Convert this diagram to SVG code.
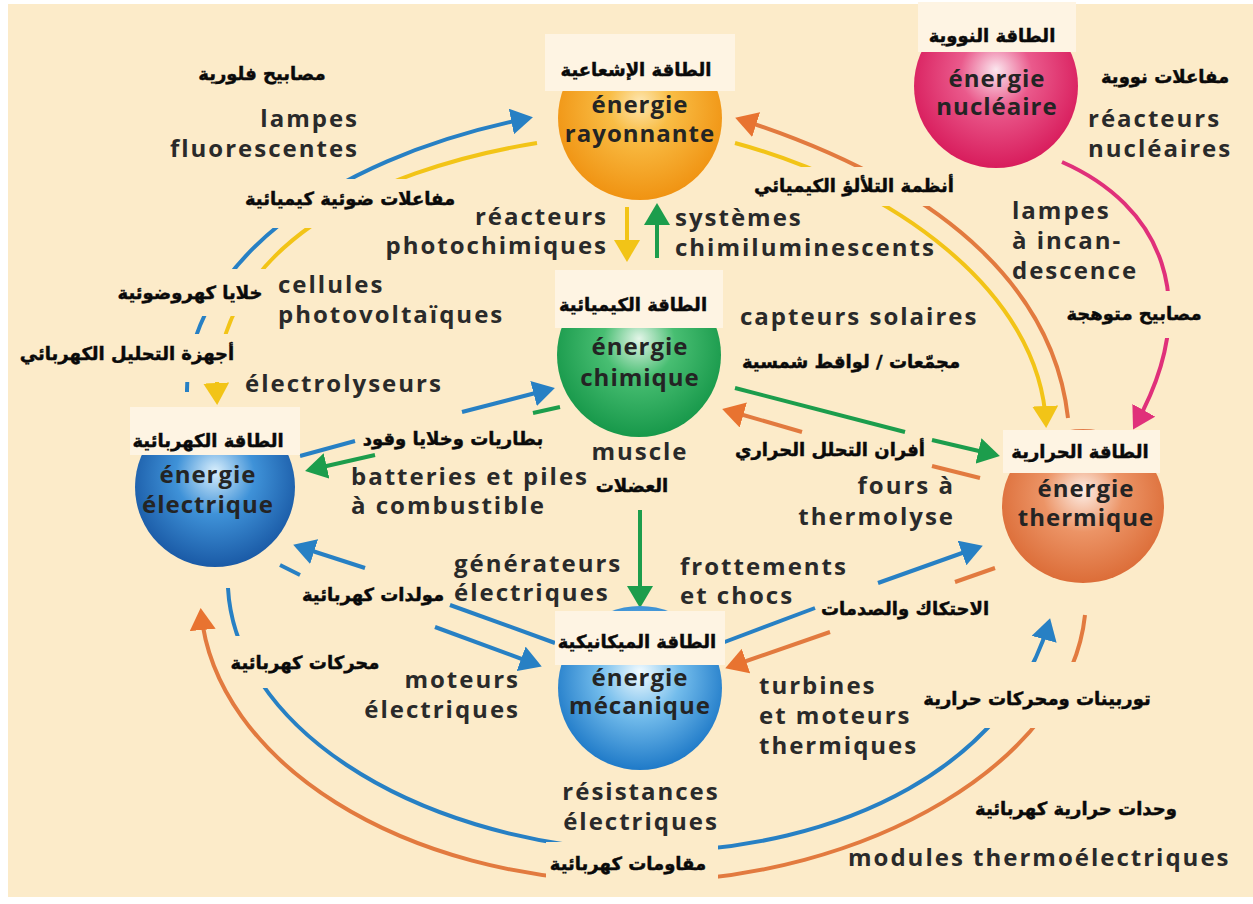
<svg xmlns="http://www.w3.org/2000/svg" width="1253" height="904" viewBox="0 0 1253 904">
<style>
.fr{font-family:'Open Sans','DejaVu Sans',sans-serif;font-weight:700;font-size:24px;letter-spacing:2px;fill:#2a2a2a}
.nd{font-family:'Open Sans','DejaVu Sans',sans-serif;font-weight:700;font-size:24px;letter-spacing:1px;fill:#242424;text-anchor:middle}
.ar{font-family:'DejaVu Sans',sans-serif;font-weight:700;font-size:18px;fill:#0a0a0a;stroke:#0a0a0a;stroke-width:0.45;text-anchor:middle}
.e{text-anchor:end}
.m{text-anchor:middle}
.bx{fill:#fcebc9}
.nb{fill:#fef4e3}
.ln{fill:none;stroke-width:4}
.bl{stroke:#2780c4}
.yl{stroke:#f2c417}
.gr{stroke:#1c9d4c}
.or{stroke:#e27a3f}
.pk{stroke:#e0307a}
</style>
<defs>
<marker id="mb" viewBox="0 0 22 26" refX="18" refY="13" markerWidth="22" markerHeight="26" markerUnits="userSpaceOnUse" orient="auto"><path d="M0,0 L22,13 L0,26 Z" fill="#2780c4"/></marker>
<marker id="my" viewBox="0 0 22 26" refX="18" refY="13" markerWidth="22" markerHeight="26" markerUnits="userSpaceOnUse" orient="auto"><path d="M0,0 L22,13 L0,26 Z" fill="#f2c417"/></marker>
<marker id="mg" viewBox="0 0 22 26" refX="18" refY="13" markerWidth="22" markerHeight="26" markerUnits="userSpaceOnUse" orient="auto"><path d="M0,0 L22,13 L0,26 Z" fill="#1c9d4c"/></marker>
<marker id="mo" viewBox="0 0 22 26" refX="18" refY="13" markerWidth="22" markerHeight="26" markerUnits="userSpaceOnUse" orient="auto"><path d="M0,0 L22,13 L0,26 Z" fill="#e87330"/></marker>
<marker id="mp" viewBox="0 0 22 26" refX="18" refY="13" markerWidth="22" markerHeight="26" markerUnits="userSpaceOnUse" orient="auto"><path d="M0,0 L22,13 L0,26 Z" fill="#e0307a"/></marker>
<radialGradient id="gOr" cx="50%" cy="45%" r="55%" fx="50%" fy="40%"><stop offset="0" stop-color="#fde6b0"/><stop offset="0.35" stop-color="#f9bd45"/><stop offset="1" stop-color="#f09312"/></radialGradient>
<radialGradient id="gPk" cx="50%" cy="45%" r="55%" fx="50%" fy="40%"><stop offset="0" stop-color="#fbe6ee"/><stop offset="0.4" stop-color="#ea5a8c"/><stop offset="1" stop-color="#d81c5c"/></radialGradient>
<radialGradient id="gGr" cx="50%" cy="45%" r="55%" fx="50%" fy="40%"><stop offset="0" stop-color="#e3f5e8"/><stop offset="0.4" stop-color="#48be72"/><stop offset="1" stop-color="#17984a"/></radialGradient>
<radialGradient id="gEl" cx="50%" cy="45%" r="55%" fx="50%" fy="40%"><stop offset="0" stop-color="#d8eefc"/><stop offset="0.45" stop-color="#3f92d8"/><stop offset="1" stop-color="#1a5aa6"/></radialGradient>
<radialGradient id="gMe" cx="50%" cy="45%" r="55%" fx="50%" fy="40%"><stop offset="0" stop-color="#f2fbff"/><stop offset="0.45" stop-color="#74bdec"/><stop offset="1" stop-color="#1f7ac8"/></radialGradient>
<radialGradient id="gTh" cx="50%" cy="45%" r="55%" fx="50%" fy="40%"><stop offset="0" stop-color="#fdeee6"/><stop offset="0.45" stop-color="#ec9466"/><stop offset="1" stop-color="#dc6d38"/></radialGradient>
</defs>
<rect x="0" y="0" width="1253" height="904" fill="#ffffff"/>
<rect x="8" y="4" width="1245" height="893" fill="#fcebc9"/>

<g id="connectors">
<path class="ln bl" d="M187,392 C186,270 320,160 529,118" marker-end="url(#mb)"/>
<path class="ln yl" d="M537,143 C370,170 210,250 217,401" marker-end="url(#my)"/>
<path class="ln yl" d="M627,207 L627,258" marker-end="url(#my)"/>
<path class="ln gr" d="M657,258 L657,207" marker-end="url(#mg)"/>
<path class="ln or" d="M1068,418 C1055,300 960,190 739,119" marker-end="url(#mo)"/>
<path class="ln yl" d="M735,143 C890,185 1040,290 1046,424" marker-end="url(#my)"/>
<path class="ln pk" d="M1062,162 C1160,205 1205,300 1135,426" marker-end="url(#mp)"/>
<path class="ln gr" d="M735,388 L905,432"/>
<path class="ln gr" d="M932,440 L996,455" marker-end="url(#mg)"/>
<path class="ln or" d="M980,478 L932,466"/>
<path class="ln or" d="M802,432 L726,410" marker-end="url(#mo)"/>
<path class="ln bl" d="M300,456 L355,441"/>
<path class="ln bl" d="M462,412 L551,389" marker-end="url(#mb)"/>
<path class="ln gr" d="M560,407 L533,413"/>
<path class="ln gr" d="M375,455 L309,470" marker-end="url(#mg)"/>
<path class="ln gr" d="M640,510 L640,604" marker-end="url(#mg)"/>
<path class="ln bl" d="M555,643 L450,605"/>
<path class="ln bl" d="M365,568 L297,546" marker-end="url(#mb)"/>
<path class="ln bl" d="M280,565 L300,575"/>
<path class="ln bl" d="M435,627 L538,665" marker-end="url(#mb)"/>
<path class="ln bl" d="M722,643 L815,608"/>
<path class="ln bl" d="M878,583 L979,547" marker-end="url(#mb)"/>
<path class="ln or" d="M995,568 L955,582"/>
<path class="ln or" d="M830,632 L729,667" marker-end="url(#mo)"/>
<path class="ln or" d="M1085,615 C1070,760 870,880 640,882 C400,882 215,760 201,612" marker-end="url(#mo)"/>
<path class="ln bl" d="M228,588 C235,720 400,840 640,852 C850,852 1010,760 1049,622" marker-end="url(#mb)"/>
</g>

<g id="labels">
<rect class="bx" x="192" y="62" width="140" height="26"/>
<text class="ar" x="262" y="80">مصابيح فلورية</text>
<rect class="bx" x="243" y="179" width="217" height="49"/>
<text class="ar" x="350" y="205">مفاعلات ضوئية كيميائية</text>
<rect class="bx" x="108" y="269" width="166" height="47"/>
<text class="ar" x="190" y="299">خلايا كهروضوئية</text>
<rect class="bx" x="20" y="334" width="214" height="48"/>
<text class="ar" x="127" y="360">أجهزة التحليل الكهربائي</text>
<rect class="bx" x="1093" y="64" width="144" height="26"/>
<text class="ar" x="1165" y="83">مفاعلات نووية</text>
<rect class="bx" x="752" y="167" width="213" height="39"/>
<text class="ar" x="854" y="192">أنظمة التلألؤ الكيميائي</text>
<rect class="bx" x="1058" y="291" width="154" height="47"/>
<text class="ar" x="1134" y="320">مصابيح متوهجة</text>
<text class="ar" x="851" y="368">مجمّعات / لواقط شمسية</text>
<rect class="bx" x="358" y="426" width="192" height="25"/>
<text class="ar" x="453" y="445">بطاريات وخلايا وقود</text>
<text class="ar" x="830" y="456">أفران التحلل الحراري</text>
<text class="ar" x="632" y="492">العضلات</text>
<text class="ar" x="373" y="601">مولدات كهربائية</text>
<text class="ar" x="905" y="615">الاحتكاك والصدمات</text>
<rect class="bx" x="231" y="636" width="156" height="52"/>
<text class="ar" x="305" y="669">محركات كهربائية</text>
<rect class="bx" x="921" y="662" width="240" height="66"/>
<text class="ar" x="1037" y="705">توربينات ومحركات حرارية</text>
<text class="ar" x="1076" y="815">وحدات حرارية كهربائية</text>
<rect class="bx" x="546" y="842" width="172" height="44"/>
<text class="ar" x="628" y="870">مقاومات كهربائية</text>

<text class="fr e" x="359" y="127">lampes</text>
<text class="fr e" x="359" y="157">fluorescentes</text>
<text class="fr e" x="608" y="225">réacteurs</text>
<text class="fr e" x="608" y="254">photochimiques</text>
<text class="fr" x="675" y="226">systèmes</text>
<text class="fr" x="675" y="256">chimiluminescents</text>
<text class="fr" x="1088" y="127">réacteurs</text>
<text class="fr" x="1088" y="157">nucléaires</text>
<text class="fr" x="1012" y="219">lampes</text>
<text class="fr" x="1012" y="249">à incan-</text>
<text class="fr" x="1012" y="279">descence</text>
<text class="fr" x="278" y="293">cellules</text>
<text class="fr" x="278" y="323">photovoltaïques</text>
<text class="fr" x="740" y="325">capteurs solaires</text>
<text class="fr" x="245" y="392">électrolyseurs</text>
<text class="fr" x="351" y="485">batteries et piles</text>
<text class="fr" x="351" y="514">à combustible</text>
<text class="fr m" x="640" y="460">muscle</text>
<text class="fr e" x="955" y="494">fours à</text>
<text class="fr e" x="955" y="525">thermolyse</text>
<text class="fr" x="454" y="572">générateurs</text>
<text class="fr" x="454" y="601">électriques</text>
<text class="fr" x="680" y="575">frottements</text>
<text class="fr" x="680" y="604">et chocs</text>
<text class="fr e" x="520" y="688">moteurs</text>
<text class="fr e" x="520" y="718">électriques</text>
<text class="fr" x="759" y="694">turbines</text>
<text class="fr" x="759" y="724">et moteurs</text>
<text class="fr" x="759" y="754">thermiques</text>
<text class="fr m" x="641" y="800">résistances</text>
<text class="fr m" x="641" y="830">électriques</text>
<text class="fr" x="848" y="866">modules thermoélectriques</text>
</g>

<g id="node-rayonnante">
<circle cx="640" cy="118" r="82" fill="url(#gOr)"/>
<rect class="nb" x="545" y="34" width="190" height="57"/>
<text class="ar" x="636" y="76">الطاقة الإشعاعية</text>
<text class="nd" x="640" y="113">énergie</text>
<text class="nd" x="640" y="142">rayonnante</text>
</g>
<g id="node-nucleaire">
<circle cx="996" cy="86" r="82" fill="url(#gPk)"/>
<rect class="nb" x="918" y="2" width="158" height="50"/>
<text class="ar" x="992" y="42">الطاقة النووية</text>
<text class="nd" x="997" y="87">énergie</text>
<text class="nd" x="997" y="115">nucléaire</text>
</g>
<g id="node-chimique">
<circle cx="639" cy="355" r="82" fill="url(#gGr)"/>
<rect class="nb" x="555" y="270" width="168" height="58"/>
<text class="ar" x="633" y="311">الطاقة الكيميائية</text>
<text class="nd" x="640" y="355">énergie</text>
<text class="nd" x="640" y="386">chimique</text>
</g>
<g id="node-electrique">
<circle cx="215" cy="487" r="80" fill="url(#gEl)"/>
<rect class="nb" x="130" y="407" width="170" height="48"/>
<text class="ar" x="208" y="447">الطاقة الكهربائية</text>
<text class="nd" x="208" y="483">énergie</text>
<text class="nd" x="208" y="513">électrique</text>
</g>
<g id="node-mecanique">
<circle cx="640" cy="688" r="82" fill="url(#gMe)"/>
<rect class="nb" x="555" y="611" width="170" height="54"/>
<text class="ar" x="637" y="648">الطاقة الميكانيكية</text>
<text class="nd" x="640" y="686">énergie</text>
<text class="nd" x="640" y="714">mécanique</text>
</g>
<g id="node-thermique">
<ellipse cx="1083" cy="506" rx="81" ry="77" fill="url(#gTh)"/>
<rect class="nb" x="1003" y="430" width="157" height="43"/>
<text class="ar" x="1080" y="458">الطاقة الحرارية</text>
<text class="nd" x="1086" y="497">énergie</text>
<text class="nd" x="1086" y="526">thermique</text>
</g>
</svg>
